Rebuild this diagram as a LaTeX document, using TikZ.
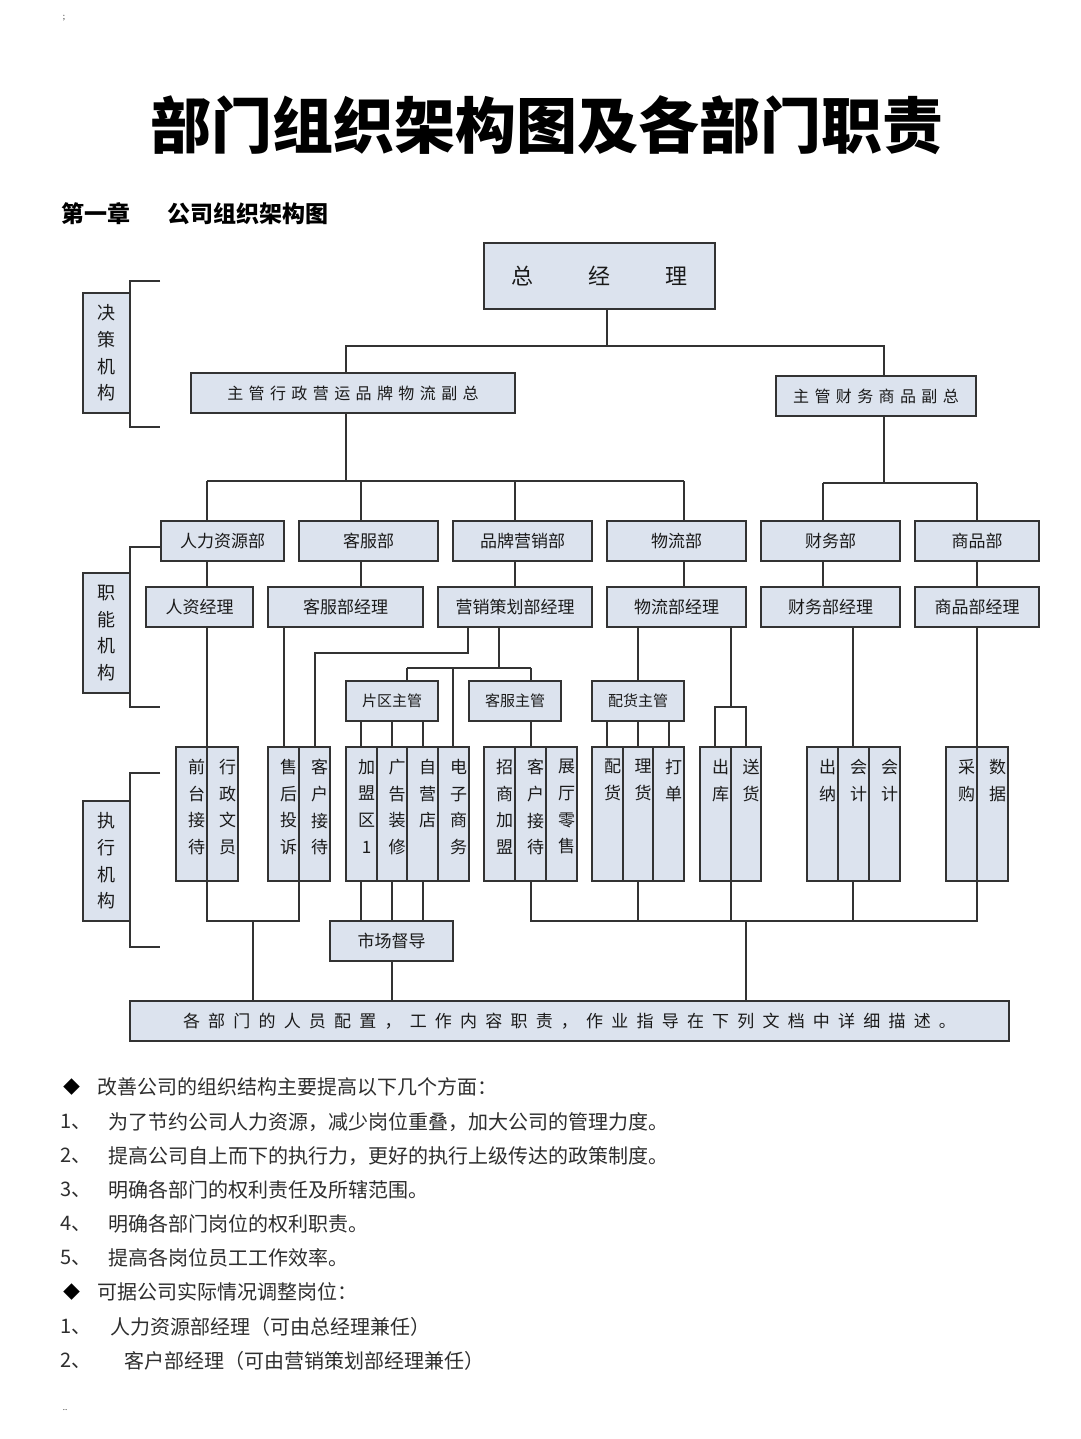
\documentclass[tikz,border=0pt]{standalone}
\usepackage{fontspec}
\newfontfamily\cjk{Noto Sans CJK SC}
\definecolor{lc}{HTML}{333333}
\definecolor{bf}{HTML}{DCE3EE}
\definecolor{tc}{HTML}{1A1A1A}
\definecolor{ltc}{HTML}{2E2E2E}
\newcommand\setsk[1]{\spaceskip=#1pt\relax}
\newcommand\bx[7][]{\node[box,#1,minimum width={(#5-#3)*1pt},minimum height={(#6-#4)*1pt}] (#2) at ({(#3+#5)/2},{(#4+#6)/2}) {#7};}
\newcommand\cb[4]{\bx{#1}{#2}{747}{#3}{881}{}\node[vt] (#1t) at ({(#2+#3)/2+5},759) {#4};}
\begin{document}
\begin{tikzpicture}[x=1pt,y=-1pt,
  box/.style={draw=lc,fill=bf,line width=1.3pt,inner sep=0pt,outer sep=0pt,text=tc,font=\cjk\fontsize{17}{20}\selectfont},
  sub/.style={font=\cjk\fontsize{15}{18}\selectfont},
  lab/.style={align=center,font=\cjk\fontsize{18}{26.7}\selectfont},
  vt/.style={font=\cjk\fontsize{17}{26.7}\selectfont,align=center,anchor=north,inner sep=0pt,text=tc},
  conn/.style={draw=lc,line width=1.3pt},
  lt/.style={anchor=west,inner sep=0pt,text=ltc,font=\cjk\fontsize{20}{24}\selectfont}]
\useasboundingbox (0,0) rectangle (1080,1439);
\fill[white] (0,0) rectangle (1080,1439);
% stray marks
\node[inner sep=0pt,font=\cjk\fontsize{8}{10}\selectfont,text=ltc] (m0) at (64,18) {;};
\node[inner sep=0pt,font=\cjk\fontsize{8}{10}\selectfont,text=ltc] (m9) at (65,1410) {..};
% title
\node[inner sep=0pt,font=\cjk\bfseries\fontsize{61}{70}\selectfont] (title) at (547,125) {部门组织架构图及各部门职责};
\node[anchor=west,inner sep=0pt,font=\cjk\bfseries\fontsize{23}{28}\selectfont] (ch) at (61,214) {第一章\hspace{37pt}公司组织架构图};
% side labels
\bx[lab]{l1}{83}{293}{130}{413}{决\\策\\机\\构}
\bx[lab]{l2}{83}{573}{130}{693}{职\\能\\机\\构}
\bx[lab]{l3}{83}{801}{130}{921}{执\\行\\机\\构}
% top
\bx[font=\cjk\fontsize{22}{26}\selectfont]{gm}{484}{243}{715}{309}{总\hspace{55pt}经\hspace{55pt}理}
\bx[font=\cjk\fontsize{16}{20}\selectfont\setsk{5.4}]{vp1}{191}{373}{515}{413}{主 管 行 政 营 运 品 牌 物 流 副 总}
\bx[font=\cjk\fontsize{16}{20}\selectfont\setsk{5.4}]{vp2}{776}{376}{976}{416}{主 管 财 务 商 品 副 总}
% departments
\bx{d1}{161}{521}{284}{561}{人力资源部}
\bx{d2}{299}{521}{438}{561}{客服部}
\bx{d3}{453}{521}{592}{561}{品牌营销部}
\bx{d4}{607}{521}{746}{561}{物流部}
\bx{d5}{761}{521}{900}{561}{财务部}
\bx{d6}{915}{521}{1039}{561}{商品部}
% managers
\bx{m1}{146}{587}{253}{627}{人资经理}
\bx{m2}{268}{587}{423}{627}{客服部经理}
\bx{m3}{438}{587}{592}{627}{营销策划部经理}
\bx{m4}{607}{587}{746}{627}{物流部经理}
\bx{m5}{761}{587}{900}{627}{财务部经理}
\bx{m6}{915}{587}{1039}{627}{商品部经理}
% supervisors
\bx[sub]{s1}{346}{681}{438}{721}{片区主管}
\bx[sub]{s2}{469}{681}{561}{721}{客服主管}
\bx[sub]{s3}{592}{681}{684}{721}{配货主管}
% execution columns
\cb{e1a}{176}{207}{前\\台\\接\\待}
\cb{e1b}{207}{238}{行\\政\\文\\员}
\cb{e2a}{268}{299}{售\\后\\投\\诉}
\cb{e2b}{299}{330}{客\\户\\接\\待}
\cb{e3a}{346}{377}{加\\盟\\区\\1}
\cb{e3b}{377}{407}{广\\告\\装\\修}
\cb{e3c}{407}{438}{自\\营\\店}
\cb{e3d}{438}{469}{电\\子\\商\\务}
\cb{e4a}{484}{515}{招\\商\\加\\盟}
\cb{e4b}{515}{546}{客\\户\\接\\待}
\cb{e4c}{546}{577}{展\\厅\\零\\售}
\cb{e5a}{592}{623}{配\\货}
\cb{e5b}{623}{653}{理\\货}
\cb{e5c}{653}{684}{打\\单}
\cb{e6a}{700}{731}{出\\库}
\cb{e6b}{731}{761}{送\\货}
\cb{e7a}{807}{838}{出\\纳}
\cb{e7b}{838}{869}{会\\计}
\cb{e7c}{869}{900}{会\\计}
\cb{e8a}{946}{977}{采\\购}
\cb{e8b}{977}{1008}{数\\据}
\bx{sd}{330}{921}{453}{961}{市场督导}
\bx[font=\cjk\fontsize{17}{20}\selectfont\setsk{8.2}]{bt}{130}{1001}{1009}{1041}{各 部 门 的 人 员 配 置 ， 工 作 内 容 职 责 ， 作 业 指 导 在 下 列 文 档 中 详 细 描 述 。}
% helper coordinates
\foreach \v in {130,160,207,253,284,299,315,346,361,392,407,423,453,468,499,515,531,607,638,669,684,715,731,746,823,853,884,977}
  \coordinate (x\v) at (\v,0);
\foreach \v in {281,346,427,481,483,547,653,668,707,773,921,947}
  \coordinate (y\v) at (0,\v);
% brackets
\draw[conn] (x160|-y281) -- (x130|-y281) -- (x130|-y427) -- (x160|-y427);
\draw[conn] (d1.west|-y547) -- (x130|-y547) -- (x130|-y707) -- (x160|-y707);
\draw[conn] (x160|-y773) -- (x130|-y773) -- (x130|-y947) -- (x160|-y947);
% top connectors
\draw[conn] (gm.south-|x607) -- (x607|-y346);
\draw[conn] (vp1.north-|x346) |- (x884|-y346) -- (vp2.north-|x884);
\draw[conn] (vp1.south-|x346) -- (x346|-y481);
\draw[conn] (x207|-y481) -- (x684|-y481);
\foreach \d/\x in {d1/207,d2/361,d3/515,d4/684} \draw[conn] (x\x|-y481) -- (\d.north-|x\x);
\draw[conn] (vp2.south-|x884) -- (x884|-y483);
\draw[conn] (x823|-y483) -- (x977|-y483);
\foreach \d/\x in {d5/823,d6/977} \draw[conn] (x\x|-y483) -- (\d.north-|x\x);
\foreach \d/\m/\x in {d1/m1/207,d2/m2/361,d3/m3/515,d4/m4/684,d5/m5/823,d6/m6/977}
  \draw[conn] (\d.south-|x\x) -- (\m.north-|x\x);
% manager to execution
\draw[conn] (m1.south-|x207) -- (e1a.north east);
\draw[conn] (m2.south-|x284) -- (e2a.north-|x284);
\draw[conn] (m3.south-|x468) |- (x315|-y653) -- (e2b.north-|x315);
\draw[conn] (m3.south-|x499) -- (x499|-y668);
\draw[conn] (x407|-y668) -- (x531|-y668);
\draw[conn] (x407|-y668) -- (s1.north-|x407);
\draw[conn] (x531|-y668) -- (s2.north-|x531);
\draw[conn] (x453|-y668) -- (e3d.north-|x453);
\foreach \e/\x in {e3a/361,e3b/392,e3c/423} \draw[conn] (s1.south-|x\x) -- (\e.north-|x\x);
\draw[conn] (s2.south-|x531) -- (e4b.north-|x531);
\draw[conn] (m4.south-|x638) -- (s3.north-|x638);
\foreach \e/\x in {e5a/607,e5b/638,e5c/669} \draw[conn] (s3.south-|x\x) -- (\e.north-|x\x);
\draw[conn] (m4.south-|x731) -- (x731|-y707);
\draw[conn] (e6a.north-|x715) |- (x746|-y707) -- (e6b.north-|x746);
\draw[conn] (m5.south-|x853) -- (e7b.north-|x853);
\draw[conn] (m6.south-|x977) -- (e8a.north east);
% bottom connectors
\draw[conn] (e1a.south east) -- (x207|-y921) -- (x299|-y921) -- (e2a.south east);
\draw[conn] (x253|-y921) -- (bt.north-|x253);
\foreach \e/\x in {e3a/361,e3b/392,e3c/423} \draw[conn] (\e.south-|x\x) -- (sd.north-|x\x);
\draw[conn] (sd.south-|x392) -- (bt.north-|x392);
\draw[conn] (e4b.south-|x531) -- (x531|-y921) -- (x977|-y921) -- (e8a.south east);
\foreach \e/\x in {e5b/638,e6a/731,e7b/853} \draw[conn] (\e.south-|x\x) -- (x\x|-y921);
\draw[conn] (x746|-y921) -- (bt.north-|x746);
% text list
\node[lt,font=\cjk\fontsize{17}{20}\selectfont,text=black] (b1) at (63,1087) {◆};
\node[lt] (t0) at (97,1087) {改善公司的组织结构主要提高以下几个方面：};
\node[lt] (n1) at (60,1122) {1、}; \node[lt] (t1) at (108,1122) {为了节约公司人力资源，减少岗位重叠，加大公司的管理力度。};
\node[lt] (n2) at (60,1156) {2、}; \node[lt] (t2) at (108,1156) {提高公司自上而下的执行力，更好的执行上级传达的政策制度。};
\node[lt] (n3) at (60,1190) {3、}; \node[lt] (t3) at (108,1190) {明确各部门的权利责任及所辖范围。};
\node[lt] (n4) at (60,1224) {4、}; \node[lt] (t4) at (108,1224) {明确各部门岗位的权利职责。};
\node[lt] (n5) at (60,1258) {5、}; \node[lt] (t5) at (108,1258) {提高各岗位员工工作效率。};
\node[lt,font=\cjk\fontsize{17}{20}\selectfont,text=black] (b2) at (63,1292) {◆};
\node[lt] (t6) at (97,1292) {可据公司实际情况调整岗位：};
\node[lt] (n6) at (60,1327) {1、}; \node[lt] (t7) at (110,1327) {人力资源部经理（可由总经理兼任）};
\node[lt] (n7) at (60,1361) {2、}; \node[lt] (t8) at (124,1361) {客户部经理（可由营销策划部经理兼任）};
\end{tikzpicture}
\end{document}
